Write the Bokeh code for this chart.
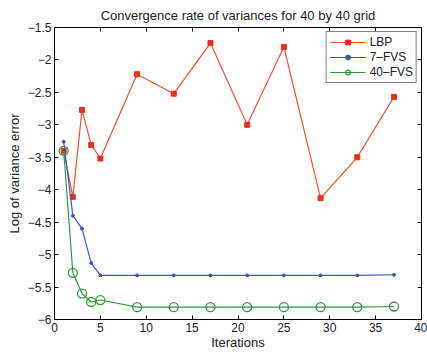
from bokeh.plotting import figure
from bokeh.models import LinearAxis, FixedTicker, Range1d, Legend, LegendItem
from bokeh.embed import file_html
from bokeh.resources import INLINE

# Data
iters = [1, 2, 3, 4, 5, 9, 13, 17, 21, 25, 29, 33, 37]
lbp = [-3.40, -4.11, -2.77, -3.31, -3.52, -2.22, -2.52, -1.74, -3.00, -1.80, -4.13, -3.50, -2.57]
fvs7 = [-3.26, -4.40, -4.60, -5.13, -5.32, -5.32, -5.32, -5.32, -5.32, -5.32, -5.32, -5.32, -5.31]
fvs40 = [-3.40, -5.28, -5.60, -5.73, -5.70, -5.81, -5.81, -5.81, -5.81, -5.81, -5.81, -5.81, -5.80]
x_ticks = [0, 5, 10, 15, 20, 25, 30, 35, 40]
y_ticks = [-6, -5.5, -5, -4.5, -4, -3.5, -3, -2.5, -2, -1.5]

RED = "#f0502c"
RED_M = "#e8301c"
BLUE = "#3d50dc"
GREEN = "#2e9a3c"
FONT = "Liberation Sans"

p = figure(width=427, height=353, output_backend="svg", toolbar_location=None,
           x_range=Range1d(0, 40), y_range=Range1d(-6, -1.5),
           min_border_left=54, min_border_right=6, min_border_top=27, min_border_bottom=34)
p.background_fill_color = "white"
p.border_fill_color = "white"
p.outline_line_color = "black"
p.outline_line_width = 1
p.grid.visible = False

p.title.text = "Convergence rate of variances for 40 by 40 grid"
p.title.align = "center"
p.title.text_font = FONT
p.title.text_font_style = "normal"
p.title.text_font_size = "13px"
p.title.text_color = "#222222"
p.title.offset = 0

for ax in (p.xaxis[0], p.yaxis[0]):
    ax.major_tick_in = 4
    ax.major_tick_out = 0
    ax.minor_tick_line_color = None
    ax.axis_line_color = "black"
    ax.major_label_text_font = FONT
    ax.major_label_text_font_size = "12px"
    ax.major_label_text_color = "#222222"
    ax.axis_label_text_font = FONT
    ax.axis_label_text_font_style = "normal"
    ax.axis_label_text_font_size = "13px"
    ax.axis_label_text_color = "#222222"

p.xaxis[0].ticker = FixedTicker(ticks=x_ticks)
p.yaxis[0].ticker = FixedTicker(ticks=y_ticks)
p.xaxis[0].axis_label = "Iterations"
p.yaxis[0].axis_label = "Log of variance error"
p.xaxis[0].axis_label_standoff = 0
p.yaxis[0].axis_label_standoff = 3
p.xaxis[0].major_label_standoff = 3
p.yaxis[0].major_label_standoff = 3

top = LinearAxis(ticker=FixedTicker(ticks=x_ticks), major_tick_in=4, major_tick_out=0,
                 minor_tick_line_color=None, major_label_text_font_size="0px",
                 major_label_text_color=None)
right = LinearAxis(ticker=FixedTicker(ticks=y_ticks), major_tick_in=4, major_tick_out=0,
                   minor_tick_line_color=None, major_label_text_font_size="0px",
                   major_label_text_color=None)
p.add_layout(top, "above")
p.add_layout(right, "right")

r1 = p.line(iters, lbp, line_color=RED, line_width=1.2)
r1m = p.scatter(iters, lbp, marker="square", size=5, fill_color=RED_M, line_color=RED_M)
r2 = p.line(iters, fvs7, line_color=BLUE, line_width=1.2)
r2m = p.scatter(iters, fvs7, marker="circle", size=3, fill_color=BLUE, line_color=BLUE)
r3 = p.line(iters, fvs40, line_color=GREEN, line_width=1.2)
r3m = p.scatter(iters, fvs40, marker="circle", size=9, fill_color=None, line_color=GREEN, line_width=1.3)

legend = Legend(items=[LegendItem(label="LBP", renderers=[r1, r1m]),
                       LegendItem(label="7\u2013FVS", renderers=[r2, r2m]),
                       LegendItem(label="40\u2013FVS", renderers=[r3, r3m])],
                location="top_right")
legend.label_text_font = FONT
legend.label_text_font_size = "12px"
legend.label_text_color = "#222222"
legend.border_line_color = "black"
legend.border_line_width = 1
legend.glyph_width = 36
legend.glyph_height = 12
legend.label_height = 12
legend.spacing = 1
legend.padding = 3
legend.margin = 4
legend.label_standoff = 4
p.add_layout(legend)

open("out.html", "w").write(file_html(p, INLINE))
